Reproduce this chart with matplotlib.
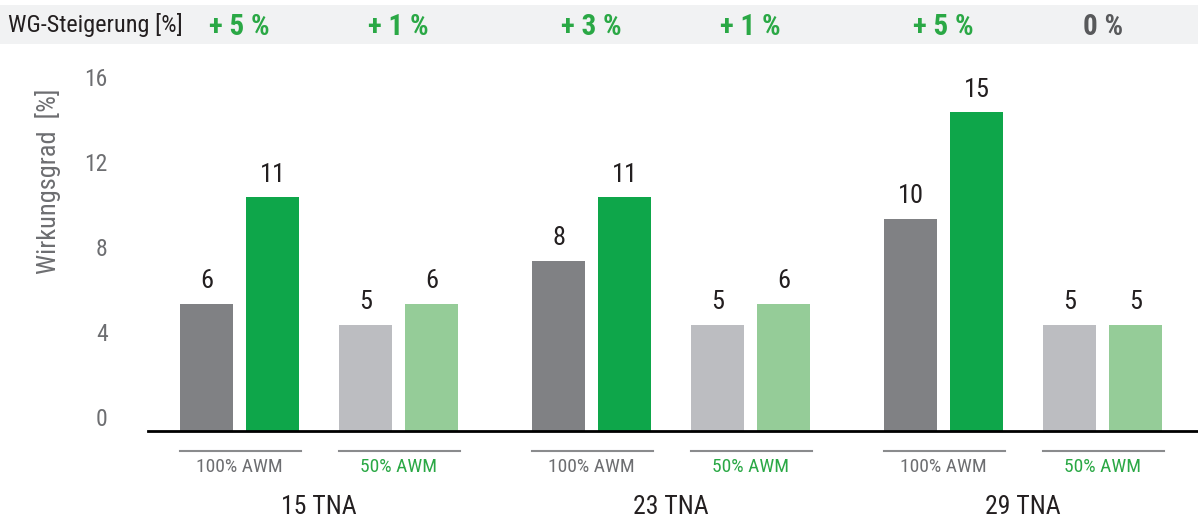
import matplotlib
matplotlib.use("Agg")
import matplotlib.pyplot as plt
from matplotlib import font_manager
from matplotlib.patches import Rectangle
from matplotlib.transforms import blended_transform_factory

# Efficiency per test case (rounded values as printed on the bars)
groups = ["15 TNA", "23 TNA", "29 TNA"]
full_ref = [6, 8, 10]      # 100% AWM, reference
full_new = [11, 11, 15]    # 100% AWM, improved
half_ref = [5, 5, 5]       # 50% AWM, reference
half_new = [6, 6, 5]       # 50% AWM, improved
gains = ["+ 5 %", "+ 1 %", "+ 3 %", "+ 1 %", "+ 5 %", "0 %"]
load_labels = ["100% AWM", "50% AWM"]
y_ticks = [0, 4, 8, 12, 16]

# pick a narrow font if there is one
names = {f.name for f in font_manager.fontManager.ttflist}
family = next((n for n in ["Roboto Condensed", "Liberation Sans Narrow",
                           "Open Sans Condensed", "Roboto"] if n in names),
              "DejaVu Sans")
plt.rcParams["font.family"] = [family, "DejaVu Sans"]

DARK = "#808184"
GREEN = "#0ea64a"
LIGHT = "#bcbdc1"
LGREEN = "#95cc98"
TXT = "#231f20"
GREYTXT = "#6d6e71"
TXTGREEN = "#2aa845"

fig = plt.figure(figsize=(11.98, 5.21), dpi=100)
ax = fig.add_axes([148 / 1198, 1 - 431 / 521, 1050 / 1198, 361.25 / 521])

step = 5.333
offsets = [0, 1.0, 2.41, 3.41]
width = 0.8
series = [(full_ref, DARK), (full_new, GREEN), (half_ref, LIGHT), (half_new, LGREEN)]

for i in range(len(groups)):
    for (vals, col), off in zip(series, offsets):
        x = i * step + off
        ax.bar(x, vals[i], width=width, color=col, zorder=2)
        ax.text(x, vals[i] + 0.5, str(vals[i]), ha="center", va="bottom",
                fontsize=19, color=TXT)

ax.set_xlim(-0.886, 15.02)
ax.set_ylim(0, 17)
ax.set_xticks([])
ax.set_yticks(y_ticks)
ax.set_yticklabels([str(t) for t in y_ticks], va="bottom")
ax.tick_params(axis="y", length=0, pad=29, labelsize=17, labelcolor=GREYTXT)
for s in ["top", "right", "left"]:
    ax.spines[s].set_visible(False)
ax.spines["bottom"].set_linewidth(2)
ax.spines["bottom"].set_color("black")
ax.set_ylabel("Wirkungsgrad  [%]", fontsize=19, color=GREYTXT)
ax.yaxis.set_label_coords(-0.083, 0.692)

# header band with efficiency gains
fig.patches.append(Rectangle((0, 1 - 44 / 521), 1, 39 / 521, transform=fig.transFigure,
                             facecolor="#f1f2f3", edgecolor="none", zorder=-1))
fig.text(8 / 1198, 1 - 25 / 521, "WG-Steigerung [%]", fontsize=17.5, color=TXT,
         ha="left", va="center")

trans = blended_transform_factory(ax.transData, fig.transFigure)
for i in range(len(groups)):
    for p in range(2):
        left = i * step + offsets[2 * p] - width / 2
        right = i * step + offsets[2 * p + 1] + width / 2
        mid = (left + right) / 2
        g = gains[2 * i + p]
        ax.text(mid, 1 - 27 / 521, g, transform=trans, ha="center", va="center",
                fontsize=21, fontweight="bold",
                color=TXTGREEN if g.startswith("+") else "#58595b", clip_on=False)
        ax.plot([left, right + 0.03], [1 - 451 / 521] * 2, transform=trans,
                color="#8a8b8d", lw=1.5, clip_on=False)
        ax.text(mid, 1 - 467 / 521, load_labels[p], transform=trans, ha="center",
                va="center", fontsize=14, color=GREYTXT if p == 0 else TXTGREEN,
                clip_on=False)
    gmid = i * step + (offsets[0] + offsets[3]) / 2
    ax.text(gmid, 1 - 507 / 521, groups[i], transform=trans, ha="center",
            va="center", fontsize=18.5, color=TXT, clip_on=False)

fig.savefig("out.png", dpi=100)
